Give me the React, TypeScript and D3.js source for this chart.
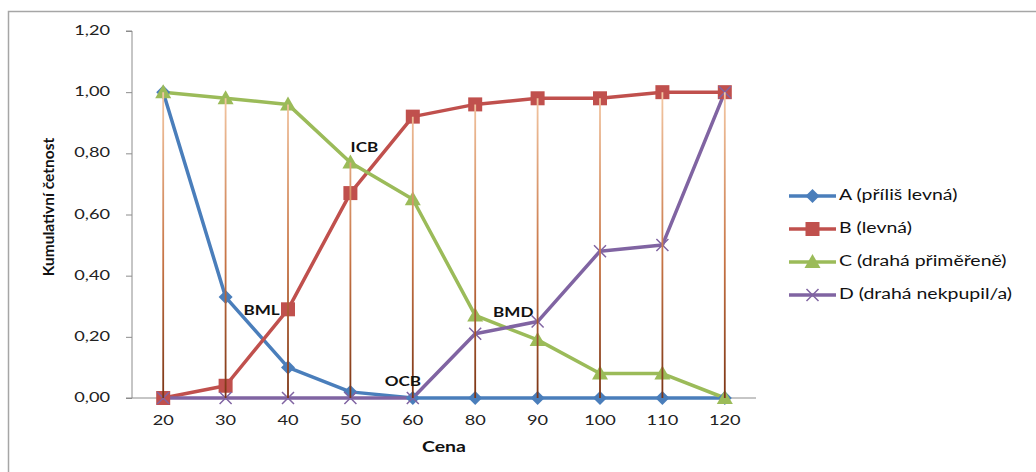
import React, { useEffect, useRef } from 'react';
import * as d3 from 'd3';

const categories = ['20', '30', '40', '50', '60', '80', '90', '100', '110', '120'];
const seriesA = [1.0, 0.33, 0.1, 0.02, 0.0, 0.0, 0.0, 0.0, 0.0, 0.0];
const seriesB = [0.0, 0.04, 0.29, 0.67, 0.92, 0.96, 0.98, 0.98, 1.0, 1.0];
const seriesC = [1.0, 0.98, 0.96, 0.77, 0.65, 0.27, 0.19, 0.08, 0.08, 0.0];
const seriesD = [0.0, 0.0, 0.0, 0.0, 0.0, 0.21, 0.25, 0.48, 0.5, 1.0];
const seriesNames = ['A (příliš levná)', 'B (levná)', 'C (drahá přiměřeně)', 'D (drahá nekpupil/a)'];
const yTicks = [0, 0.2, 0.4, 0.6, 0.8, 1.0, 1.2];
const annotations = [
  { text: 'BML', cat: '30', value: 0.284, dx: 36 },
  { text: 'ICB', cat: '50', value: 0.817, dx: 14 },
  { text: 'OCB', cat: '60', value: 0.052, dx: -10 },
  { text: 'BMD', cat: '80', value: 0.278, dx: 38 },
];

const COLORS = ['#4a7ebb', '#c0504d', '#9bbb59', '#8064a2'];
const MARKERS = ['diamond', 'square', 'triangle', 'x'];
const FONT = 'Lato, "Open Sans", sans-serif';
const STRETCH = 1.3;

export default function App() {
  const ref = useRef<SVGSVGElement | null>(null);

  useEffect(() => {
    const svgEl = ref.current;
    if (!svgEl) return;
    const svg = d3.select(svgEl);
    svg.selectAll('*').remove();

    const width = 1036, height = 472;
    const x = d3.scaleBand().domain(categories).range([132, 756]).paddingInner(0).paddingOuter(0);
    const cx = (c: string) => (x(c) || 0) + x.bandwidth() / 2;
    const y = d3.scaleLinear().domain([0, 1.2]).range([398, 31]);
    const allSeries = [seriesA, seriesB, seriesC, seriesD];

    // text with the reference's wide, horizontally stretched look
    const label = (px: number, py: number, txt: string, size: number, bold: boolean, anchor = 'middle', sx = STRETCH) =>
      svg.append('text').attr('transform', `translate(${px},${py}) scale(${sx},1)`)
        .attr('text-anchor', anchor).attr('dominant-baseline', 'middle')
        .attr('font-family', FONT).attr('font-size', size).attr('font-weight', bold ? 700 : 400)
        .attr('fill', '#111').text(txt);

    // outer border
    svg.append('rect').attr('x', 8.5).attr('y', 11.5).attr('width', width).attr('height', height)
      .attr('fill', '#fff').attr('stroke', '#a6a6a6').attr('stroke-width', 1.5);

    // gradient for high-low lines
    const defs = svg.append('defs');
    const grad = defs.append('linearGradient').attr('id', 'hl').attr('gradientUnits', 'userSpaceOnUse')
      .attr('x1', 0).attr('x2', 0).attr('y1', y(1)).attr('y2', y(0));
    grad.append('stop').attr('offset', 0).attr('stop-color', '#f3c8a4');
    grad.append('stop').attr('offset', 0.55).attr('stop-color', '#c77445');
    grad.append('stop').attr('offset', 1).attr('stop-color', '#7b3414');

    // y axis
    const yAxis = d3.axisLeft(y).tickValues(yTicks).tickSize(6)
      .tickFormat(d => d3.format('.2f')(d as number).replace('.', ','));
    const gy = svg.append('g').attr('transform', 'translate(132,0)').call(yAxis);
    gy.select('.domain').attr('stroke', '#8c8c8c').attr('d', `M-6,${y(1.2)}H0V${y(0)}`);
    gy.selectAll('.tick line').attr('stroke', '#8c8c8c');
    gy.selectAll('.tick text').attr('x', 0).attr('dy', null).attr('dominant-baseline', 'middle')
      .attr('transform', `translate(-22,0) scale(${STRETCH},1)`)
      .attr('font-family', FONT).attr('font-size', 14).attr('fill', '#222');

    // x axis
    const xAxis = d3.axisBottom(x).tickSize(0);
    const gx = svg.append('g').attr('transform', `translate(0,${y(0)})`).call(xAxis);
    gx.select('.domain').attr('stroke', '#8c8c8c').attr('d', `M126,0H756`);
    gx.selectAll('.tick text').attr('y', 0).attr('dy', null).attr('dominant-baseline', 'middle')
      .attr('transform', `translate(0,23) scale(${STRETCH},1)`)
      .attr('font-family', FONT).attr('font-size', 14).attr('fill', '#222');

    // series lines
    const line = d3.line<number>().x((_, i) => cx(categories[i])).y(d => y(d));
    allSeries.forEach((vals, si) => {
      svg.append('path').datum(vals).attr('fill', 'none').attr('stroke', COLORS[si])
        .attr('stroke-width', 3.5).attr('stroke-linejoin', 'round').attr('d', line);
    });
    const drawMarker = (g: any, kind: string, px: number, py: number, color: string) => {
      if (kind === 'diamond') {
        g.append('path').attr('d', `M${px},${py - 7}L${px + 7},${py}L${px},${py + 7}L${px - 7},${py}Z`).attr('fill', color);
      } else if (kind === 'square') {
        g.append('rect').attr('x', px - 7).attr('y', py - 7).attr('width', 14).attr('height', 14).attr('fill', color);
      } else if (kind === 'triangle') {
        g.append('path').attr('d', `M${px},${py - 8}L${px + 8},${py + 6}L${px - 8},${py + 6}Z`).attr('fill', color);
      } else {
        g.append('path').attr('d', `M${px - 6},${py - 6}L${px + 6},${py + 6}M${px + 6},${py - 6}L${px - 6},${py + 6}`)
          .attr('stroke', color).attr('stroke-width', 1.5);
      }
    };
    const markerGroup = svg.append('g');
    allSeries.forEach((vals, si) => {
      vals.forEach((v, i) => drawMarker(markerGroup, MARKERS[si], cx(categories[i]), y(v), COLORS[si]));
    });

    // high-low lines
    categories.forEach((c, i) => {
      const vs = allSeries.map(s => s[i]);
      svg.append('line').attr('x1', cx(c)).attr('x2', cx(c))
        .attr('y1', y(d3.max(vs) as number)).attr('y2', y(d3.min(vs) as number) + 0.01)
        .attr('stroke', 'url(#hl)').attr('stroke-width', 1.8);
    });

    // annotations
    annotations.forEach(a => label(cx(a.cat) + a.dx, y(a.value), a.text, 14, true, 'middle', 1.22));

    // axis titles
    label(444, 448, 'Cena', 15, true);
    svg.append('text').attr('transform', 'translate(50,207) rotate(-90)').attr('text-anchor', 'middle')
      .attr('dominant-baseline', 'middle').attr('font-family', FONT).attr('font-weight', 700)
      .attr('font-size', 15.5).attr('fill', '#111').text('Kumulativní četnost');

    // legend
    const legendY = d3.scalePoint().domain(seriesNames).range([196, 295]);
    seriesNames.forEach((name, si) => {
      const ly = legendY(name) || 0;
      const lg = svg.append('g');
      lg.append('line').attr('x1', 789).attr('x2', 836).attr('y1', ly).attr('y2', ly)
        .attr('stroke', COLORS[si]).attr('stroke-width', 3.5);
      drawMarker(lg, MARKERS[si], 812.5, ly, COLORS[si]);
      label(839, ly, name, 15, false, 'start');
    });
  }, []);

  return (
    <svg ref={ref} width={1036} height={472}
      style={{ position: 'absolute', left: 0, top: 0, background: '#fff' }} />
  );
}
